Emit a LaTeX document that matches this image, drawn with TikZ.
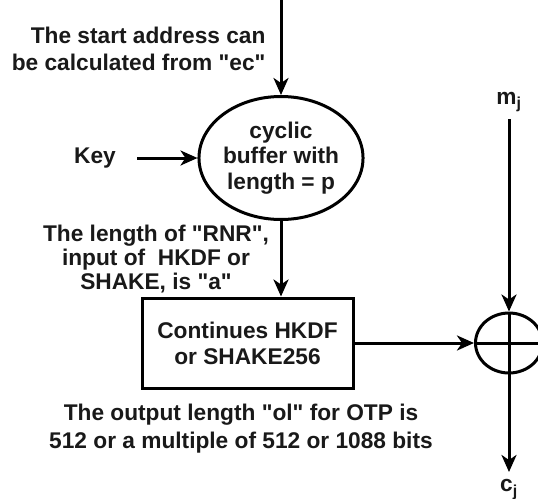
\documentclass[tikz,border=0pt]{standalone}
\usepackage{fontspec}
\setmainfont{Liberation Sans}
\usetikzlibrary{arrows.meta,shapes.geometric}
\begin{document}
\begin{tikzpicture}[x=1pt, y=-1pt, line width=3pt,
    txt/.style={font=\bfseries\fontsize{22.7pt}{#1}\selectfont, inner sep=0pt, text=black!90},
    arr/.style={-{Stealth[length=17pt, width=15pt, inset=5pt]}}]
    \useasboundingbox (0,0) rectangle (538,498);
    % buffer, generator and xor
    \node [ellipse, draw, minimum width=133pt, minimum height=123pt, inner sep=0pt, txt=25.5pt, align=center] (c) at (281,158) {cyclic\\buffer with\\length = p};
    \node [rectangle, draw, minimum width=211pt, minimum height=90pt, txt=26pt, align=center] (b) at (247.5,343) {Continues HKDF\\or SHAKE256};
    \node [ellipse, draw, minimum width=67pt, minimum height=60pt, inner sep=0pt] (xor) at (509,343) {};
    \draw (xor.north) -- (xor.south);
    \draw (xor.west) -- (xor.east);
    % labels
    \node [txt=27pt, align=right, anchor=east] (s) at (267,48.5) {The start address can\\be calculated from \textquotedbl ec\textquotedbl};
    \node [txt=24pt] (k) at (95,158) {Key};
    \node [txt=24pt, align=center] (r) at (156,259) {The length of \textquotedbl RNR\textquotedbl,\\input of \ HKDF or\\SHAKE, is \textquotedbl a\textquotedbl};
    \node [txt=28pt, align=center] (o) at (241,429) {The output length \textquotedbl ol\textquotedbl\ for OTP is\\512 or a multiple of 512 or 1088 bits};
    \node [txt=24pt] (m) at (509,102) {m\textsubscript{j}};
    \node [txt=24pt, anchor=north] (cj) at (509,478) {c\textsubscript{j}};
    \coordinate (top) at (c.north |- 0,0);
    % connectors
    \draw [arr] (top) -- (c.north);
    \draw [arr, shorten <=20pt] (k) -- (c.west);
    \draw [arr] (c.south) -- (c.south |- b.north);
    \draw [arr] (b.east) -- (xor.west);
    \draw [arr, shorten <=6pt] (m) -- (xor.north);
    \draw [arr, shorten >=6pt] (xor.south) -- (cj.north);
\end{tikzpicture}
\end{document}
